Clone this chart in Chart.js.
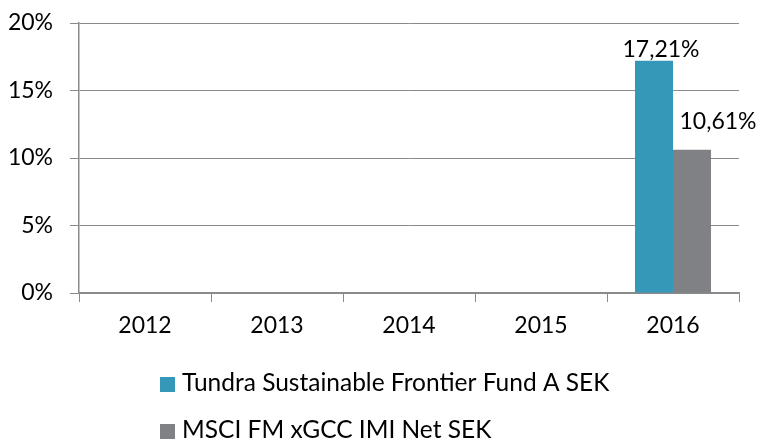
<!DOCTYPE html>
<html>
<head>
<meta charset="utf-8">
<script src="https://cdn.jsdelivr.net/npm/chart.js@4/dist/chart.umd.min.js"></script>
<style>
  html, body { margin: 0; padding: 0; background: #fff; }
  #wrap { width: 759px; height: 441px; position: relative; }
</style>
</head>
<body>
<div id="wrap"><canvas id="chart"></canvas></div>
<script>
// data
const years = ['2012', '2013', '2014', '2015', '2016'];
const fundValues = [null, null, null, null, 17.21];
const indexValues = [null, null, null, null, 10.61];
const seriesNames = ['Tundra Sustainable Frontier Fund A SEK', 'MSCI FM xGCC IMI Net SEK'];
const yTicks = [0, 5, 10, 15, 20];

const FONT = 'Lato, "Open Sans", sans-serif';
const gridGrey = '#8a8a8a';

function pct(v) {
    return v.toFixed(2).replace('.', ',') + '%';
}

// value labels, placed a bit to the right as in the original
const labelOffsets = [{ dx: 7, dy: 11 }, { dx: 26, dy: 28 }];
const barLabels = {
    id: 'barLabels',
    afterDatasetsDraw(chart) {
        const ctx = chart.ctx;
        ctx.save();
        ctx.font = '23px ' + FONT;
        ctx.fillStyle = '#000';
        ctx.textAlign = 'center';
        ctx.textBaseline = 'middle';
        chart.data.datasets.forEach((ds, i) => {
            chart.getDatasetMeta(i).data.forEach((bar, j) => {
                const v = ds.data[j];
                if (v == null) return;
                ctx.fillText(pct(v), bar.x + labelOffsets[i].dx, bar.y - labelOffsets[i].dy);
            });
        });
        ctx.restore();
    }
};

// stacked legend, left aligned
const stackedLegend = {
    id: 'stackedLegend',
    afterDraw(chart) {
        const ctx = chart.ctx;
        ctx.save();
        ctx.font = '24.5px ' + FONT;
        ctx.textBaseline = 'middle';
        ctx.textAlign = 'left';
        chart.data.datasets.forEach((ds, i) => {
            const cy = 383 + i * 47;
            ctx.fillStyle = ds.backgroundColor;
            ctx.fillRect(160, cy - 6, 15, 15);
            ctx.fillStyle = '#000';
            ctx.fillText(ds.label, 182, cy);
        });
        ctx.restore();
    }
};

new Chart(document.getElementById('chart'), {
    type: 'bar',
    data: {
        labels: years,
        datasets: [
            { label: seriesNames[0], data: fundValues, backgroundColor: 'rgb(53,152,185)' },
            { label: seriesNames[1], data: indexValues, backgroundColor: 'rgb(128,129,133)' }
        ]
    },
    options: {
        responsive: true,
        maintainAspectRatio: false,
        animation: false,
        layout: { padding: { top: 23, right: 20, bottom: 98, left: 0 } },
        datasets: { bar: { barPercentage: 1, categoryPercentage: 0.576 } },
        plugins: { legend: { display: false }, tooltip: { enabled: false } },
        scales: {
            x: {
                grid: { display: true, drawOnChartArea: false, drawTicks: true, tickLength: 9, color: gridGrey, offset: true },
                border: { display: true, color: gridGrey, width: 1.5 },
                ticks: { color: '#000', font: { family: FONT, size: 23 }, padding: 10 },
                afterFit(s) { s.height = 50; s.paddingLeft = 0; s.paddingRight = 0; }
            },
            y: {
                min: 0,
                max: 20,
                afterBuildTicks(s) { s.ticks = yTicks.map(v => ({ value: v })); },
                grid: { color: gridGrey, lineWidth: 1, tickLength: 9 },
                border: { display: true, color: gridGrey, width: 1.5 },
                ticks: { color: '#000', font: { family: FONT, size: 23 }, padding: 17, callback: v => v + '%' },
                afterFit(s) { s.width = 79; s.paddingTop = 0; s.paddingBottom = 0; }
            }
        }
    },
    plugins: [barLabels, stackedLegend]
});
</script>
</body>
</html>
